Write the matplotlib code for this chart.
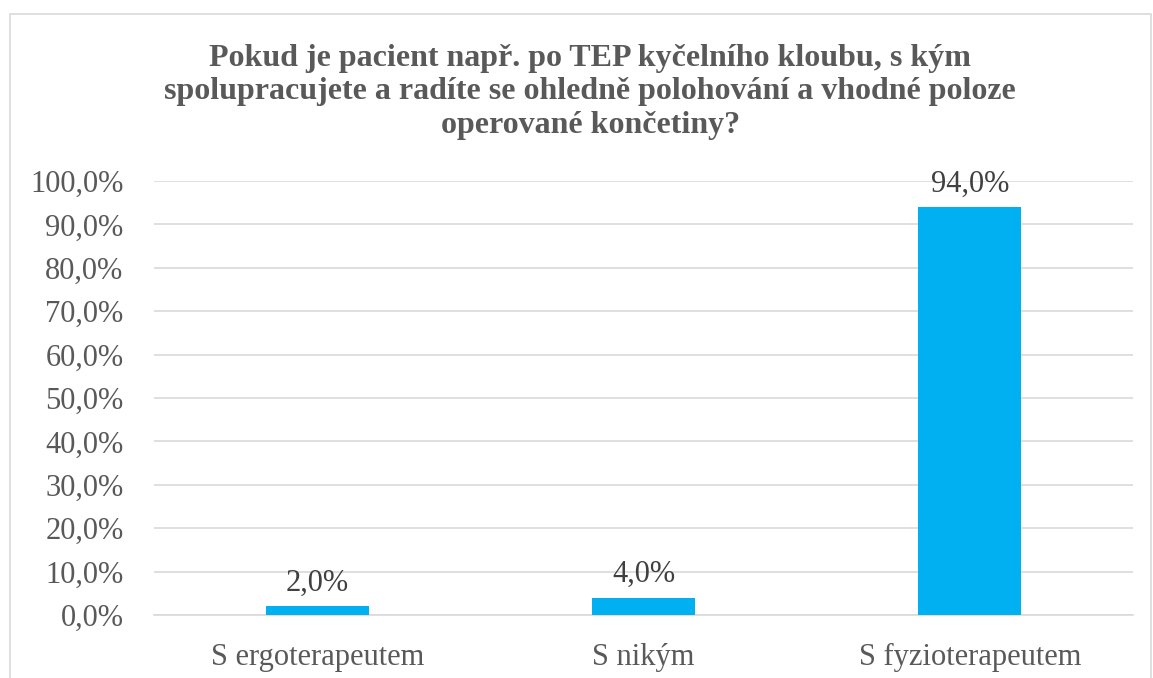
import matplotlib
matplotlib.use("Agg")
import matplotlib.pyplot as plt
from matplotlib.patches import Rectangle

categories = ["S ergoterapeutem", "S nikým", "S fyzioterapeutem"]
values = [2.0, 4.0, 94.0]
yticks = [0, 10, 20, 30, 40, 50, 60, 70, 80, 90, 100]
title = ("Pokud je pacient např. po TEP kyčelního kloubu, s kým\n"
         "spolupracujete a radíte se ohledně polohování a vhodné poloze\n"
         "operované končetiny?")

plt.rcParams['font.family'] = ['Liberation Serif', 'DejaVu Serif']

W, H = 1153, 678
fig = plt.figure(figsize=(W / 100, H / 100), dpi=100)
fig.patch.set_facecolor("white")
fig.add_artist(Rectangle((10 / W, -0.01), (W - 10 - 2) / W, (H - 14) / H + 0.01,
                         transform=fig.transFigure, fill=False,
                         edgecolor="#d9d9d9", linewidth=1.2))

left, right = 154, 1133
top, bottom = 181, 615
ax = fig.add_axes([left / W, 1 - bottom / H, (right - left) / W, (bottom - top) / H])
x = range(len(categories))
ax.bar(x, values, width=0.315, color="#00b0f0", zorder=3)
ax.set_xlim(-0.5, 2.5)
ax.set_ylim(0, 100)
ax.set_yticks(yticks)
ax.set_yticklabels([f"{v:.1f}".replace(".", ",") + "%" for v in yticks])
ax.set_xticks(list(x))
ax.set_xticklabels(categories)
ax.grid(axis="y", color="#d9d9d9", linewidth=1.2, zorder=0)
for s in ["top", "right", "left"]:
    ax.spines[s].set_visible(False)
ax.spines["bottom"].set_color("#d9d9d9")
ax.spines["bottom"].set_linewidth(1.2)
ax.tick_params(axis="both", length=0, labelsize=22, colors="#595959")
ax.tick_params(axis="y", pad=22)
ax.tick_params(axis="x", pad=20)

for xi, v in zip(x, values):
    ax.annotate(f"{v:.1f}".replace(".", ",") + "%", (xi, v), xytext=(0, 6),
                textcoords="offset points", ha="center", va="bottom",
                fontsize=22, color="#404040")

fig.text(0.512, 1 - 44 / H, title, ha="center", va="top", fontsize=23,
         fontweight="bold", color="#595959", linespacing=1.2)

fig.savefig("out.png", dpi=100)
